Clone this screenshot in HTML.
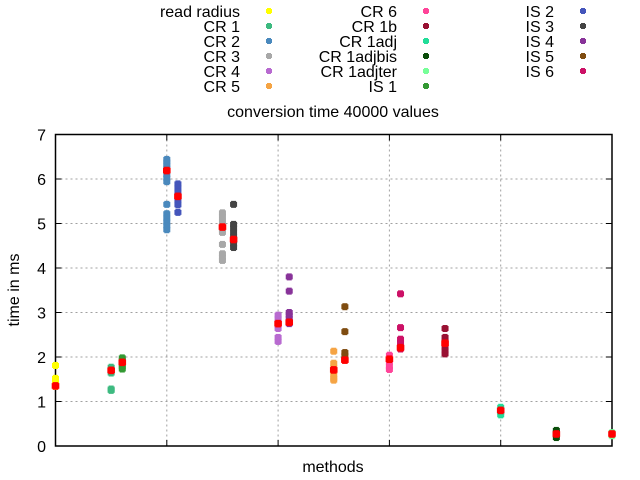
<!DOCTYPE html>
<html><head><meta charset="utf-8"><style>
html,body{margin:0;padding:0;background:#fff;}
svg{display:block;font-family:"Liberation Sans",sans-serif;}
</style></head><body>
<svg id="chart" width="640" height="480" xmlns="http://www.w3.org/2000/svg">
<g id="grid"></g>
<g id="axes"></g>
<g id="marks"></g>
<g id="legend"></g>
<text x="333" y="117" text-anchor="middle" font-size="16">conversion time 40000 values</text>
<text x="333" y="472" text-anchor="middle" font-size="16">methods</text>
<text transform="translate(19,290) rotate(-90)" text-anchor="middle" font-size="16">time in ms</text>
</svg>
<script>
const seriesNames = ["read radius","CR 1","CR 2","CR 3","CR 4","CR 5","CR 6","CR 1b","CR 1adj","CR 1adjbis","CR 1adjter","IS 1","IS 2","IS 3","IS 4","IS 5","IS 6"];
const seriesColors = ["#ffff00","#3dba80","#4a89bd","#a8a8a8","#b86ad0","#f5a444","#ff4499","#991133","#22dd99","#0a4d0a","#77ff99","#339933","#4455bb","#444444","#883399","#7f4c10","#cc1166"];
const seriesX = [0,0.5,1,1.5,2,2.5,3,3.5,4,4.5,5,0.6,1.1,1.6,2.1,2.6,3.1];
const seriesValues = [
 [1.81,1.52,1.48,1.44,1.40,1.36,1.34],
 [1.77,1.72,1.68,1.64,1.28,1.25],
 [6.44,6.38,6.32,6.25,6.18,6.10,6.02,5.94,5.43,5.22,5.12,5.03,4.95,4.86],
 [5.24,5.15,5.05,4.95,4.85,4.80,4.53,4.32,4.24,4.17],
 [2.94,2.86,2.78,2.70,2.64,2.44,2.35],
 [2.13,1.86,1.76,1.68,1.60,1.52,1.48],
 [2.04,1.96,1.88,1.78,1.72],
 [2.64,2.44,2.36,2.30,2.22,2.14,2.07],
 [0.87,0.81,0.76,0.70],
 [0.35,0.30,0.25,0.19],
 [0.30,0.26,0.23],
 [1.98,1.93,1.88,1.84,1.78,1.73],
 [5.89,5.80,5.70,5.62,5.52,5.42,5.25],
 [5.43,4.98,4.90,4.80,4.70,4.62,4.54,4.46],
 [3.80,3.48,3.00,2.94,2.87,2.80,2.75],
 [3.13,2.57,2.10,2.03,1.95],
 [3.42,2.66,2.40,2.32,2.24,2.18]
];
const seriesMeans = [1.35,1.70,6.19,4.92,2.75,1.71,1.95,2.31,0.80,0.27,0.27,1.88,5.61,4.64,2.78,1.93,2.21];
const yTicks = [0,1,2,3,4,5,6,7];
const xGrid = [1,2,3,4];

const L=55.5,R=612,T=134.5,B=446;
const xs = v => L + v/5*(R-L);
const ys = v => B - v/7*(B-T);
const NS="http://www.w3.org/2000/svg";
function mk(tag,attrs,parent){const e=document.createElementNS(NS,tag);for(const k in attrs)e.setAttribute(k,attrs[k]);parent.appendChild(e);return e;}
const grid=document.getElementById('grid'),axes=document.getElementById('axes'),marks=document.getElementById('marks'),legend=document.getElementById('legend');
yTicks.forEach(t=>{
  const y=ys(t);
  if(t>0&&t<7){const g=mk('line',{x1:L,x2:R,y1:y,y2:y,stroke:'#a0a0a0','stroke-dasharray':'2,3','stroke-width':1},grid);
  
  }
  const a=mk('line',{x1:L,x2:L+6,y1:y,y2:y,stroke:'#000'},axes);
  
  
  const b=mk('line',{x1:R-6,x2:R,y1:y,y2:y,stroke:'#000'},axes);
  
  
  const tx=mk('text',{x:46,y:y+6,'text-anchor':'end','font-size':16},axes);
  tx.textContent=t;
  
  
});
xGrid.forEach(t=>{
  const x=xs(t);
  const g=mk('line',{x1:x,x2:x,y1:T,y2:B,stroke:'#a0a0a0','stroke-dasharray':'2,3'},grid);
  
  
  const a=mk('line',{x1:x,x2:x,y1:B,y2:B-6,stroke:'#000'},axes);
  
  
  const b=mk('line',{x1:x,x2:x,y1:T,y2:T+6,stroke:'#000'},axes);
  
  
});
const box=mk('rect',{x:L,y:T,width:R-L,height:B-T,fill:'none',stroke:'#000','stroke-width':1.5},axes);


function marker(cx,cy,col,r,parent){
  const g=mk('g',{},parent);
  mk('rect',{x:cx-r,y:cy-r+1,width:2*r,height:2*r-2,fill:col},g);
  mk('rect',{x:cx-r+1,y:cy-r,width:2*r-2,height:2*r,fill:col},g);
  return g;
}
seriesValues.forEach((vals,i)=>{
  vals.forEach(v=>{
    const m=marker(xs(seriesX[i]),ys(v),seriesColors[i],3.5,marks);
    
    
  });
});
seriesMeans.forEach((v,i)=>{
  const m=marker(xs(seriesX[i]),ys(v),'#ff0000',3.8,marks);
  
  
});
const colText=[240,397,554],colMark=[269,426,583];
seriesNames.forEach((n,i)=>{
  const c=i<6?0:(i<12?1:2), r=i<6?i:(i<12?i-6:i-12);
  const y=11+r*15;
  const g=mk('g',{},legend);
  
  
  const t=mk('text',{x:colText[c],y:y+6,'text-anchor':'end','font-size':16},g);
  t.textContent=n;
  marker(colMark[c],y,seriesColors[i],3,g);
});
</script>
</body></html>
